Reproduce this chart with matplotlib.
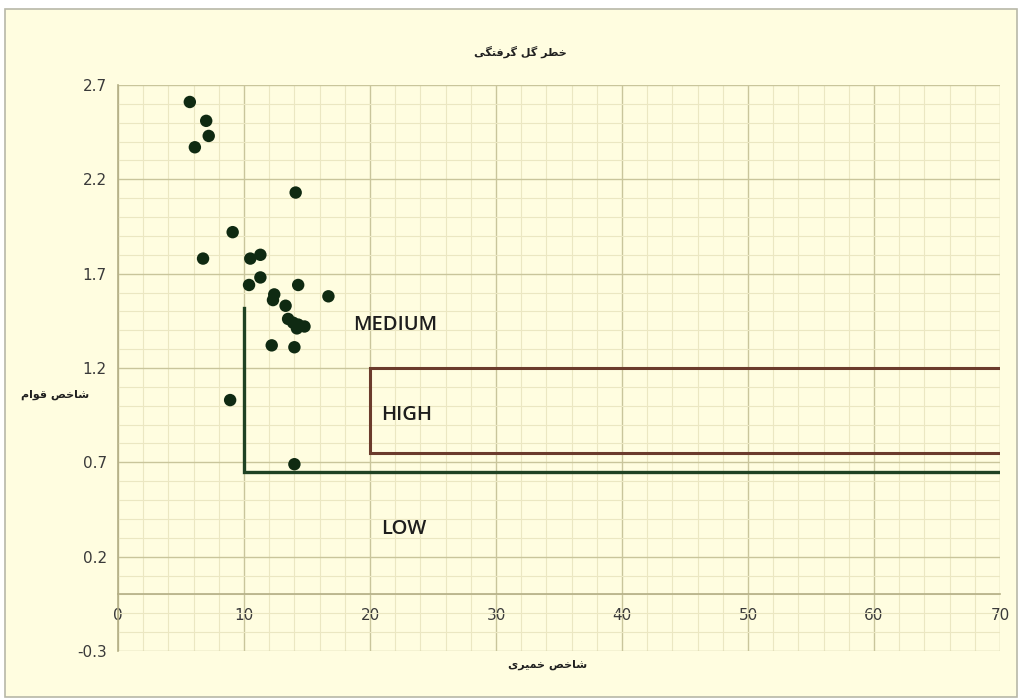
import matplotlib
matplotlib.use('Agg')
import matplotlib.pyplot as plt
from matplotlib.ticker import MultipleLocator, FixedLocator
from matplotlib.patches import Rectangle

# ---- data ----
plasticity_index = [5.7, 7.0, 7.2, 6.1, 14.1, 9.1, 6.75, 10.5, 11.3, 11.3, 10.4, 14.3,
                    12.4, 12.3, 16.7, 13.3, 13.5, 13.9, 14.3, 14.8, 14.2, 12.2, 14.0, 8.9, 14.0]
consistency_index = [2.61, 2.51, 2.43, 2.37, 2.13, 1.92, 1.78, 1.78, 1.80, 1.68, 1.64, 1.64,
                     1.59, 1.56, 1.58, 1.53, 1.46, 1.44, 1.43, 1.42, 1.41, 1.32, 1.31, 1.03, 0.69]

medium_x = [10, 10, 70]
medium_y = [1.52, 0.65, 0.65]
high_x = [70, 20, 20, 70]
high_y = [1.2, 1.2, 0.75, 0.75]

zone_labels = ['MEDIUM', 'HIGH', 'LOW']
zone_x = [18.7, 20.9, 20.9]
zone_y = [1.43, 0.95, 0.345]

x_ticks = [0, 10, 20, 30, 40, 50, 60, 70]
y_ticks = [-0.3, 0.2, 0.7, 1.2, 1.7, 2.2, 2.7]


def rtl(chars):
    # chars: list of presentation-form code points in logical order
    return ''.join(chr(c) if isinstance(c, int) else c for c in chars)[::-1]

# خطر گل گرفتگی
title_txt = rtl([0xFEA7, 0xFEC4, 0xFEAE, ' ', 0xFB94, 0xFEDE, ' ',
                 0xFB94, 0xFEAE, 0xFED3, 0xFE98, 0xFB95, 0xFBFD])
# شاخص قوام
ylabel_txt = rtl([0xFEB7, 0xFE8E, 0xFEA7, 0xFEBA, ' ', 0xFED7, 0xFEEE, 0xFE8D, 0xFEE1])
# شاخص خمیری
xlabel_txt = rtl([0xFEB7, 0xFE8E, 0xFEA7, 0xFEBA, ' ', 0xFEA7, 0xFEE4, 0xFBFF, 0xFEAE, 0xFBFC])

bg = '#fffde0'
fig = plt.figure(figsize=(10.19, 6.99), dpi=100, facecolor='white')
fig.patches.append(Rectangle((5/1019, 2/699), 1012/1019, 688/699, transform=fig.transFigure,
                             facecolor=bg, edgecolor='#b8b8a8', linewidth=1.2, zorder=-10))

ax = fig.add_axes([118/1019, 1 - 651/699, (1000 - 118)/1019, (651 - 85)/699])
ax.set_facecolor(bg)
ax.set_xlim(0, 70)
ax.set_ylim(-0.3, 2.7)

ax.xaxis.set_major_locator(FixedLocator(x_ticks))
ax.xaxis.set_minor_locator(MultipleLocator(2))
ax.yaxis.set_major_locator(FixedLocator(y_ticks))
ax.yaxis.set_minor_locator(FixedLocator([round(-0.3 + 0.1 * i, 2) for i in range(31)]))

ax.grid(which='major', color='#c9c59b', linewidth=1.0, zorder=0)
ax.grid(which='minor', color='#ebe7c2', linewidth=0.8, zorder=0)
ax.set_axisbelow(True)

for s in ['top', 'right']:
    ax.spines[s].set_visible(False)
ax.spines['left'].set_color('#b3ae85')
ax.spines['bottom'].set_color('#b3ae85')
ax.spines['bottom'].set_position(('data', 0))
ax.spines['left'].set_linewidth(1.2)
ax.spines['bottom'].set_linewidth(1.2)

ax.tick_params(which='both', length=0)
ax.tick_params(axis='x', pad=10, labelsize=11, labelcolor='#3a3a3a')
ax.tick_params(axis='y', pad=8, labelsize=11, labelcolor='#3a3a3a')
ax.set_yticklabels([f'{v:.1f}' for v in y_ticks])
ax.set_xticklabels([str(v) for v in x_ticks])

ax.plot(medium_x, medium_y, color='#1f4223', linewidth=2.4, zorder=3, solid_joinstyle='miter')
ax.plot(high_x, high_y, color='#6b3b2c', linewidth=2.2, zorder=3, solid_joinstyle='miter')

ax.scatter(plasticity_index, consistency_index, s=80, color='#0f2a12', zorder=4, edgecolors='none')

for lab, x, y in zip(zone_labels, zone_x, zone_y):
    ax.text(x, y, lab, fontsize=14.5, family='Open Sans', fontweight='semibold',
            color='#1e1e1e', ha='left', va='center', zorder=5)

fig.text(520/1019, 1 - 52/699, title_txt, fontsize=8, fontweight='bold', family='DejaVu Sans',
         ha='center', va='center', color='#202020')
fig.text(55/1019, 1 - 395/699, ylabel_txt, fontsize=8, fontweight='bold', family='DejaVu Sans',
         ha='center', va='center', color='#202020')
fig.text(548/1019, 1 - 665/699, xlabel_txt, fontsize=8, fontweight='bold', family='DejaVu Sans',
         ha='center', va='center', color='#202020')

fig.savefig('out.png', dpi=100, facecolor='white')
